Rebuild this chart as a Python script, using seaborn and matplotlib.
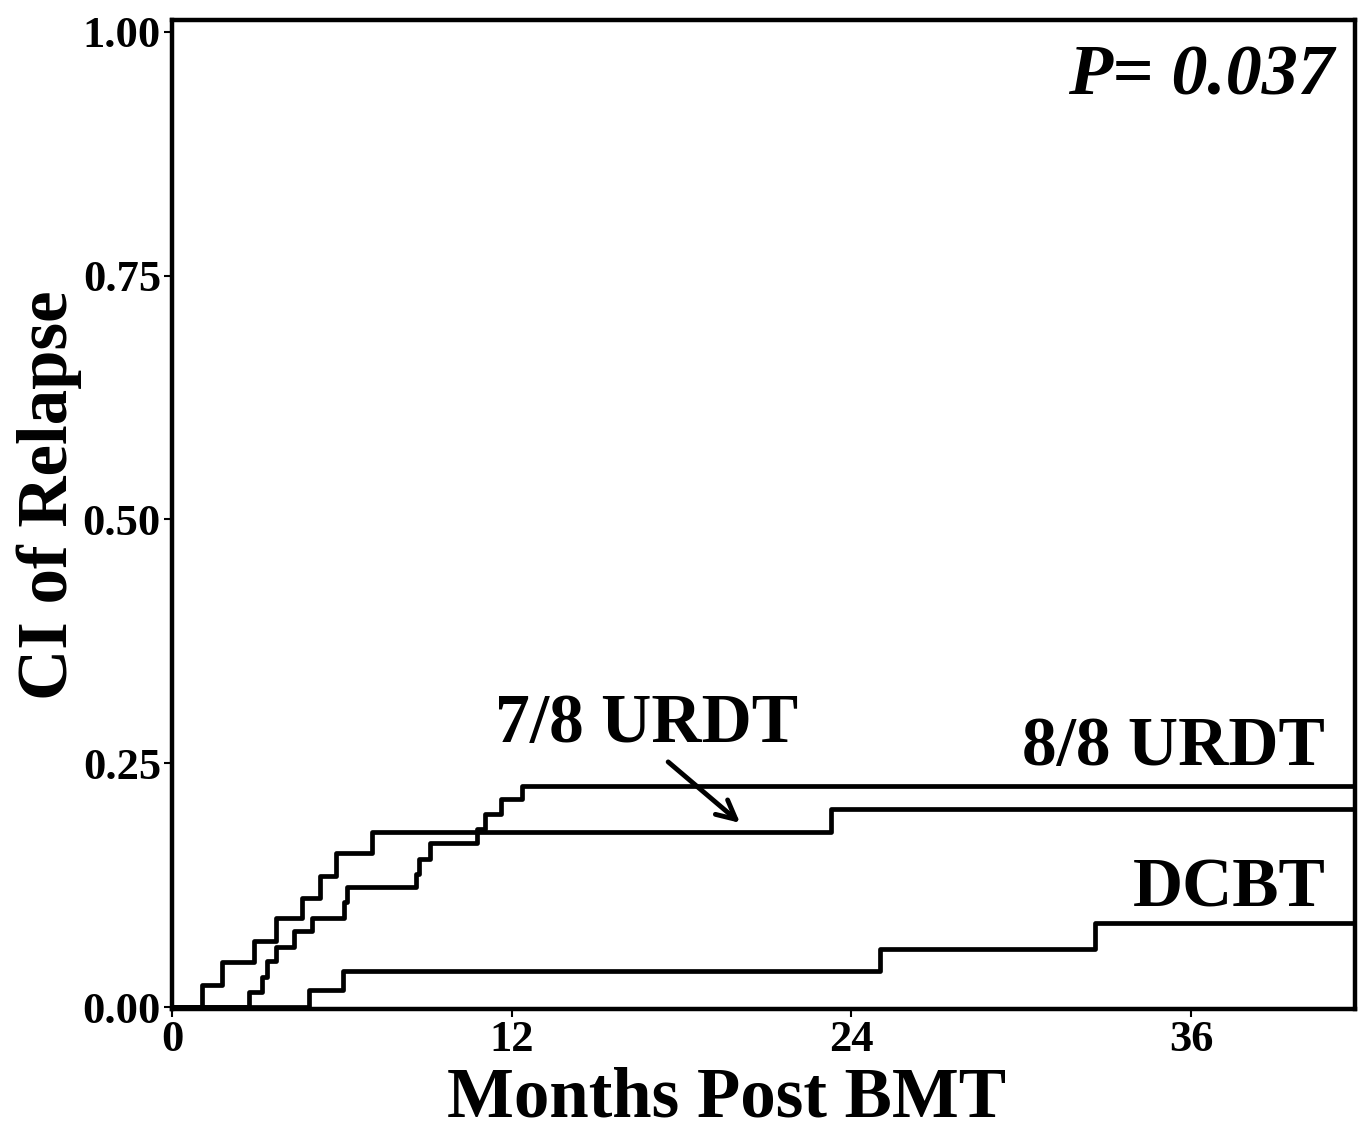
import numpy as np
import pandas as pd
import matplotlib
matplotlib.use("Agg")
import matplotlib.pyplot as plt
import seaborn as sns

# step curves (months, cumulative incidence)
t_78 = [0, 1.06, 1.77, 2.9, 3.66, 4.61, 5.23, 5.79, 7.06, 23.3, 41.8]
ci_78 = [0, 0.023, 0.046, 0.068, 0.091, 0.112, 0.135, 0.158, 0.180, 0.203, 0.203]

t_88 = [0, 2.72, 3.19, 3.37, 3.66, 4.31, 4.96, 6.09, 6.2, 8.63, 8.74, 9.1,
        10.76, 11.05, 11.64, 12.35, 41.8]
ci_88 = [0, 0.016, 0.031, 0.047, 0.062, 0.078, 0.092, 0.108, 0.123, 0.137,
         0.152, 0.168, 0.183, 0.198, 0.213, 0.227, 0.227]

t_dcbt = [0, 4.85, 6.03, 25.0, 32.6, 41.8]
ci_dcbt = [0, 0.018, 0.037, 0.060, 0.086, 0.086]

x_ticks = [0, 12, 24, 36]
y_ticks = [0.00, 0.25, 0.50, 0.75, 1.00]
p_text = "P= 0.037"

df = pd.concat([
    pd.DataFrame({"month": t_78, "ci": ci_78, "group": "7/8 URDT"}),
    pd.DataFrame({"month": t_88, "ci": ci_88, "group": "8/8 URDT"}),
    pd.DataFrame({"month": t_dcbt, "ci": ci_dcbt, "group": "DCBT"}),
])

sns.set_style("white")
plt.rcParams['font.family'] = ['Liberation Serif', 'DejaVu Serif']
plt.rcParams['font.weight'] = 'bold'
plt.rcParams['text.color'] = 'black'
plt.rcParams['axes.labelcolor'] = 'black'
plt.rcParams['xtick.color'] = 'black'
plt.rcParams['ytick.color'] = 'black'

fig = plt.figure(figsize=(13.62, 11.27), dpi=100)
ax = fig.add_axes([0.1263, 0.1045, 0.8686, 0.8778])

for g, sub in df.groupby("group"):
    sns.lineplot(data=sub, x="month", y="ci", ax=ax, color="black", lw=3.4,
                 drawstyle="steps-post", estimator=None, sort=True, legend=False)

ax.set_xlim(0, 41.8)
ax.set_ylim(-0.002, 1.012)
ax.set_xticks(x_ticks)
ax.set_yticks(y_ticks)
ax.set_xticklabels([str(v) for v in x_ticks], fontsize=32, fontweight='bold')
ax.set_yticklabels([f"{v:.2f}" for v in y_ticks], fontsize=32, fontweight='bold')
ax.tick_params(axis='both', direction='out', length=6, width=1.5, pad=2,
               bottom=True, left=True)

for s in ax.spines.values():
    s.set_linewidth(3.2)
    s.set_color("black")

ax.set_xlabel("Months Post BMT", fontsize=51, fontweight='bold')
ax.set_ylabel("CI of Relapse", fontsize=51, fontweight='bold')
ax.xaxis.set_label_coords(0.469, -0.058)
ax.yaxis.set_label_coords(-0.076, 0.52)

ax.text(41.05, 0.954, p_text, fontsize=52, fontweight='bold', style='italic',
        ha='right', va='center')
ax.text(40.75, 0.266, "8/8 URDT", fontsize=50, fontweight='bold', ha='right', va='center')
ax.text(40.75, 0.121, "DCBT", fontsize=50, fontweight='bold', ha='right', va='center')
ax.text(16.75, 0.289, "7/8 URDT", fontsize=50, fontweight='bold', ha='center', va='center')
ax.annotate("", xy=(20.07, 0.189), xytext=(17.53, 0.2515),
            arrowprops=dict(arrowstyle="->", lw=3.5, color="black",
                            shrinkA=0, shrinkB=0, mutation_scale=34))

fig.savefig("out.png", dpi=100)
